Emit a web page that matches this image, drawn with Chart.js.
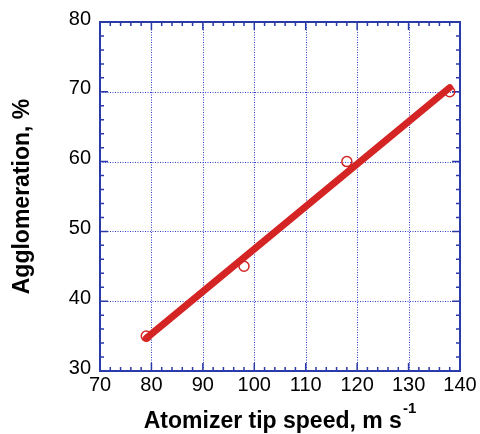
<!DOCTYPE html>
<html>
<head>
<meta charset="utf-8">
<style>
html,body{margin:0;padding:0;background:#fff;}
#wrap{width:480px;height:434px;position:relative;}
</style>
<script src="https://cdn.jsdelivr.net/npm/chart.js@4.4.1/dist/chart.umd.min.js"></script>
</head>
<body>
<div id="wrap"><canvas id="c" width="480" height="434"></canvas></div>
<script>
// Data
const tipSpeed = [79, 98, 118, 138];
const agglomeration = [35, 45, 60, 70];
const fitX = [79, 138];
const fitY = [34.7, 70.6];
const xTicks = [70, 80, 90, 100, 110, 120, 130, 140];
const yTicks = [30, 40, 50, 60, 70, 80];
const xTitle = 'Atomizer tip speed, m s';
const xTitleSup = '-1';
const yTitle = 'Agglomeration, %';

const BLUE = '#2a3aa8';
const GRID = '#2f40c8';
const RED = '#d42424';
const FONT = '"Liberation Sans", Arial, sans-serif';

const framePlugin = {
  id: 'frame',
  beforeDatasetsDraw(chart) {
    const {ctx, chartArea: a, scales: {x, y}} = chart;
    ctx.save();
    // dotted grid
    ctx.strokeStyle = GRID;
    ctx.lineWidth = 1;
    ctx.setLineDash([1, 1.5]);
    xTicks.slice(1, -1).forEach(v => {
      const px = Math.round(x.getPixelForValue(v)) + 0.5;
      ctx.beginPath(); ctx.moveTo(px, a.top); ctx.lineTo(px, a.bottom); ctx.stroke();
    });
    yTicks.slice(1, -1).forEach(v => {
      const py = Math.round(y.getPixelForValue(v)) + 0.5;
      ctx.beginPath(); ctx.moveTo(a.left, py); ctx.lineTo(a.right, py); ctx.stroke();
    });
    ctx.setLineDash([]);
    // ticks inward, all four sides
    ctx.strokeStyle = BLUE;
    ctx.lineWidth = 1.5;
    const xmin = xTicks[0], xmax = xTicks[xTicks.length - 1];
    for (let v = xmin; v <= xmax + 1e-9; v += 2) {
      const px = x.getPixelForValue(v);
      const major = Math.abs((v - xmin) % 10) < 1e-9;
      const len = major ? 8 : 4;
      ctx.beginPath();
      ctx.moveTo(px, a.bottom); ctx.lineTo(px, a.bottom - len);
      ctx.moveTo(px, a.top); ctx.lineTo(px, a.top + len);
      ctx.stroke();
    }
    const ymin = yTicks[0], ymax = yTicks[yTicks.length - 1];
    for (let v = ymin; v <= ymax + 1e-9; v += 2) {
      const py = y.getPixelForValue(v);
      const major = Math.abs((v - ymin) % 10) < 1e-9;
      const len = major ? 8 : 4;
      ctx.beginPath();
      ctx.moveTo(a.left, py); ctx.lineTo(a.left + len, py);
      ctx.moveTo(a.right, py); ctx.lineTo(a.right - len, py);
      ctx.stroke();
    }
    // border
    ctx.lineWidth = 2;
    ctx.strokeRect(a.left, a.top, a.right - a.left, a.bottom - a.top);
    ctx.restore();
  },
  afterDraw(chart) {
    const {ctx, chartArea: a} = chart;
    ctx.save();
    ctx.fillStyle = '#000';
    // x title with superscript
    ctx.font = 'bold 23px ' + FONT;
    const mainW = ctx.measureText(xTitle).width;
    ctx.font = 'bold 15px ' + FONT;
    const supW = ctx.measureText(xTitleSup).width;
    const cx = (a.left + a.right) / 2;
    const startX = cx - (mainW + supW + 1) / 2;
    ctx.textBaseline = 'alphabetic';
    ctx.textAlign = 'left';
    ctx.font = 'bold 23px ' + FONT;
    ctx.fillText(xTitle, startX, 428);
    ctx.font = 'bold 15px ' + FONT;
    ctx.fillText(xTitleSup, startX + mainW + 1, 413);
    // y title
    ctx.translate(29, (a.top + a.bottom) / 2);
    ctx.rotate(-Math.PI / 2);
    ctx.font = 'bold 23px ' + FONT;
    ctx.textAlign = 'center';
    ctx.fillText(yTitle, 0, 0);
    ctx.restore();
  }
};

new Chart(document.getElementById('c'), {
  type: 'scatter',
  data: {
    datasets: [
      {
        label: 'fit',
        type: 'line',
        data: fitX.map((v, i) => ({x: v, y: fitY[i]})),
        borderColor: RED,
        borderWidth: 7,
        pointRadius: 0,
        borderCapStyle: 'round',
        fill: false,
        order: 2
      },
      {
        label: 'data',
        data: tipSpeed.map((v, i) => ({x: v, y: agglomeration[i]})),
        pointStyle: 'circle',
        pointRadius: 5,
        pointBorderWidth: 1.5,
        pointBorderColor: RED,
        pointBackgroundColor: 'rgba(0,0,0,0)',
        order: 1
      }
    ]
  },
  options: {
    responsive: false,
    animation: false,
    devicePixelRatio: 1,
    layout: {padding: {left: 0, right: 20, top: 22, bottom: 0}},
    plugins: {legend: {display: false}, tooltip: {enabled: false}},
    scales: {
      x: {
        type: 'linear',
        min: xTicks[0], max: xTicks[xTicks.length - 1],
        afterBuildTicks: s => { s.ticks = xTicks.map(v => ({value: v})); },
        afterFit: s => { s.height = 63; },
        grid: {display: false, drawTicks: false},
        border: {display: false},
        ticks: {color: '#000', font: {family: FONT, size: 20}, padding: 2, maxRotation: 0}
      },
      y: {
        type: 'linear',
        min: yTicks[0], max: yTicks[yTicks.length - 1],
        afterBuildTicks: s => { s.ticks = yTicks.map(v => ({value: v})); },
        afterFit: s => { s.width = 100; },
        grid: {display: false, drawTicks: false},
        border: {display: false},
        ticks: {color: '#000', font: {family: FONT, size: 20}, padding: 9, labelOffset: -3}
      }
    }
  },
  plugins: [framePlugin]
});
</script>
</body>
</html>
